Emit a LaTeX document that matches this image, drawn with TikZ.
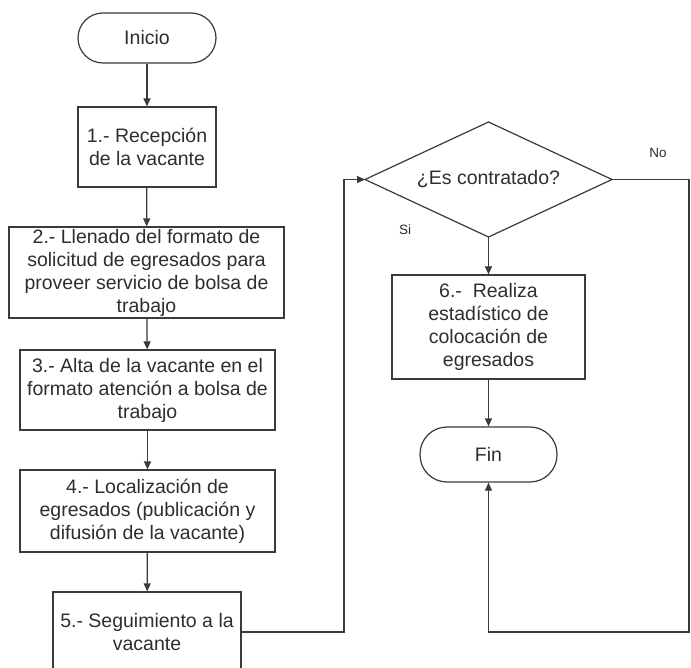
\documentclass[tikz,border=0pt]{standalone}
\usepackage{fontspec}
\setmainfont{Liberation Sans}
\usetikzlibrary{arrows.meta}
\definecolor{ink}{HTML}{3A3A3A}
\definecolor{txt}{HTML}{2E2E2E}
\tikzset{
  every node/.style={text=txt, font=\fontsize{19.5}{23}\selectfont, align=center, inner sep=0pt},
  proc/.style={draw=ink, line width=1.2pt, rectangle},
  term/.style={draw=ink, line width=1.2pt, rectangle, rounded corners=#1},
  decis/.style={draw=ink, line width=1.2pt},
  conn/.style={draw=ink, line width=1.2pt, -{Triangle[length=8pt,width=7pt]}},
  plainline/.style={draw=ink, line width=1.2pt},
  lbl/.style={font=\fontsize{13.5}{16}\selectfont},
}
\begin{document}
\begin{tikzpicture}[x=1pt,y=-1pt]
\clip (0,0) rectangle (691,668);
\fill[white] (0,0) rectangle (691,668);
\node[term=25pt, minimum width=138pt, minimum height=50pt] (ini) at (147,38) {Inicio};
\node[proc, minimum width=138pt, minimum height=80pt] (b1) at (147,147) {1.- Recepción\\de la vacante};
\node[proc, minimum width=275pt, minimum height=91pt] (b2) at (146.5,272.5) {2.- Llenado del formato de\\solicitud de egresados para\\proveer servicio de bolsa de\\trabajo};
\node[proc, minimum width=255pt, minimum height=80pt] (b3) at (147.5,390) {3.- Alta de la vacante en el\\formato atención a bolsa de\\trabajo};
\node[proc, minimum width=255pt, minimum height=82pt] (b4) at (147.5,511) {4.- Localización de\\egresados (publicación y\\difusión de la vacante)};
\node[proc, minimum width=188pt, minimum height=80pt] (b5) at (147,632) {5.- Seguimiento a la\\vacante};
\coordinate (dc) at (488.5,179.5);
\coordinate (dw) at (365,179.5);
\coordinate (de) at (612,179.5);
\coordinate (dn) at (488.5,122);
\coordinate (ds) at (488.5,237);
\draw[decis] (dw) -- (dn) -- (de) -- (ds) -- cycle;
\node (dq) at (dc) {¿Es contratado?};
\node[proc, minimum width=193pt, minimum height=104pt] (b6) at (488.5,327) {6.-\ \ Realiza\\estadístico de\\colocación de\\egresados};
\node[term=27pt, minimum width=137pt, minimum height=55pt] (fin) at (488.5,454.5) {Fin};
\node[lbl] (no) at (658,153) {No};
\node[lbl] (si) at (405,230) {Si};
\coordinate (la) at (344,632);
\coordinate (lb) at (344,179.5);
\coordinate (ra) at (689,179.5);
\coordinate (rb) at (689,632);
\coordinate (rc) at (488.5,632);
\draw[conn] (ini) -- (b1);
\draw[conn] (b1) -- (b2);
\draw[conn] (b2) -- (b3);
\draw[conn] (b3) -- (b4);
\draw[conn] (b4) -- (b5);
\draw[conn] (b5.east |- la) -- (la) -- (lb) -- (dw);
\draw[conn] (ds) -- (b6);
\draw[conn] (b6) -- (fin);
\draw[conn] (de) -- (ra) -- (rb) -- (rc) -- (fin.south);
\end{tikzpicture}
\end{document}
